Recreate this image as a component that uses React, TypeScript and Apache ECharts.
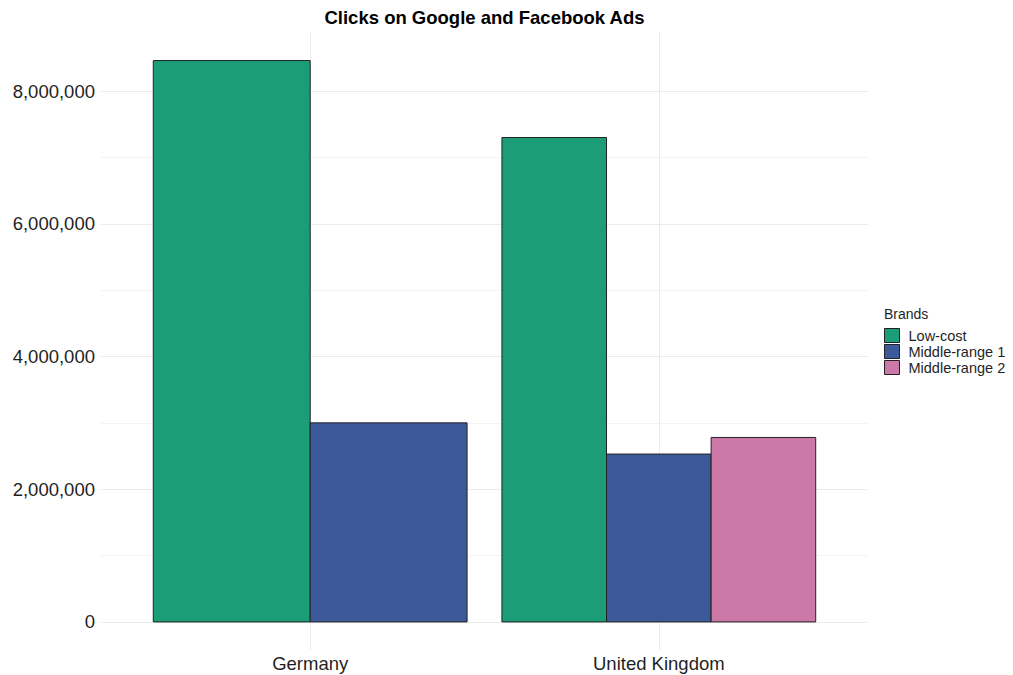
import React, { useEffect, useRef } from "react";
import * as echarts from "echarts";

const categories = ["Germany", "United Kingdom"];
const brands = ["Low-cost", "Middle-range 1", "Middle-range 2"];
const lowCost: (number | null)[] = [8460000, 7300000];
const middleRange1: (number | null)[] = [3000000, 2530000];
const middleRange2: (number | null)[] = [null, 2780000];
const yTicks = [0, 2000000, 4000000, 6000000, 8000000];
const yMinorTicks = [1000000, 3000000, 5000000, 7000000];

const seriesValues = [lowCost, middleRange1, middleRange2];
const colors = ["#1B9E77", "#3C5A9A", "#CC79A7"];
const GROUP_WIDTH = 0.9;
const FONT = "'Liberation Sans', Arial, Helvetica, sans-serif";
const TEXT = "#1f1f1f";

const allVals = seriesValues.flat().filter((v) => v != null) as number[];
const dataMax = Math.max(...allVals);
const yMin = -dataMax * 0.05;
const yMax = dataMax * 1.05;

export default function App() {
  const ref = useRef<HTMLDivElement>(null);
  useEffect(() => {
    if (!ref.current) return;
    const chart = echarts.init(ref.current, undefined, { renderer: "svg" });

    const makeRender = (brandIdx: number) => (params: any, api: any) => {
      const cat = api.value(0) as number;
      const val = api.value(1) as number;
      const present = seriesValues
        .map((arr, i) => (arr[cat] != null ? i : -1))
        .filter((i) => i >= 0);
      const n = present.length;
      const pos = present.indexOf(brandIdx);
      const w = GROUP_WIDTH / n;
      const x0 = cat + 1 - GROUP_WIDTH / 2 + pos * w;
      const p0 = api.coord([x0, val]);
      const p1 = api.coord([x0 + w, 0]);
      return {
        type: "rect",
        shape: { x: p0[0], y: p0[1], width: p1[0] - p0[0], height: p1[1] - p0[1] },
        style: { fill: colors[brandIdx], stroke: "#222222", lineWidth: 1 },
      };
    };

    const barSeries = brands.map((name, bi) => ({
      type: "custom",
      name,
      z: 3,
      itemStyle: { color: colors[bi], borderColor: "#222222", borderWidth: 1 },
      encode: { x: 0, y: 1 },
      data: seriesValues[bi]
        .map((v, ci) => (v == null ? null : [ci, v]))
        .filter((d) => d != null),
      renderItem: makeRender(bi),
    }));

    const gridLines = [
      ...yMinorTicks.map((v) => ({ yAxis: v, lineStyle: { color: "#F3F3F3", width: 1, type: "solid" } })),
      ...yTicks.map((v) => ({ yAxis: v, lineStyle: { color: "#EBEBEB", width: 1, type: "solid" } })),
      ...categories.map((_, i) => ({ xAxis: i + 1, lineStyle: { color: "#EBEBEB", width: 1, type: "solid" } })),
    ];

    chart.setOption({
      animation: false,
      textStyle: { fontFamily: FONT },
      grid: { left: 101, right: 145, top: 32.5, bottom: 25, containLabel: false },
      xAxis: {
        type: "value",
        min: 0.4,
        max: 2.6,
        axisLine: { show: false },
        axisTick: { show: false },
        splitLine: { show: false },
        axisLabel: {
          customValues: categories.map((_, i) => i + 1),
          formatter: (v: number) => categories[Math.round(v) - 1] ?? "",
          fontSize: 18.5,
          color: TEXT,
          fontFamily: FONT,
          margin: 4,
        },
      },
      yAxis: {
        type: "value",
        min: yMin,
        max: yMax,
        axisLine: { show: false },
        axisTick: { show: false },
        splitLine: { show: false },
        axisLabel: {
          customValues: yTicks,
          formatter: (v: number) => Math.round(v).toLocaleString("en-US"),
          fontSize: 18.5,
          color: TEXT,
          fontFamily: FONT,
          margin: 6,
        },
      },
      legend: {
        data: brands,
        orient: "vertical",
        left: 884,
        top: 328,
        padding: 0,
        itemWidth: 15,
        itemHeight: 14,
        itemGap: 1,
        icon: "rect",
        itemStyle: { borderColor: "#222222", borderWidth: 1 },
        textStyle: { fontSize: 14.5, color: TEXT, fontFamily: FONT, lineHeight: 15, padding: [0, 0, 0, 4] },
        selectedMode: false,
      },
      graphic: [
        {
          type: "text",
          x: 484.5,
          y: 17,
          style: {
            text: "Clicks on Google and Facebook Ads",
            fontSize: 18.5,
            fontWeight: "bold",
            fontFamily: FONT,
            fill: "#000000",
            align: "center",
            verticalAlign: "middle",
          },
        },
        {
          type: "text",
          x: 884,
          y: 314,
          style: {
            text: "Brands",
            fontSize: 14,
            fontFamily: FONT,
            fill: TEXT,
            align: "left",
            verticalAlign: "middle",
          },
        },
      ],
      series: [
        {
          type: "line",
          name: "grid",
          data: [],
          z: 1,
          silent: true,
          markLine: {
            silent: true,
            z: 1,
            symbol: "none",
            label: { show: false },
            animation: false,
            data: gridLines,
          },
        },
        ...barSeries,
      ],
    });
    return () => chart.dispose();
  }, []);
  return (
    <div
      ref={ref}
      style={{ position: "fixed", left: 0, top: 0, width: 1013, height: 675, background: "#ffffff" }}
    />
  );
}
